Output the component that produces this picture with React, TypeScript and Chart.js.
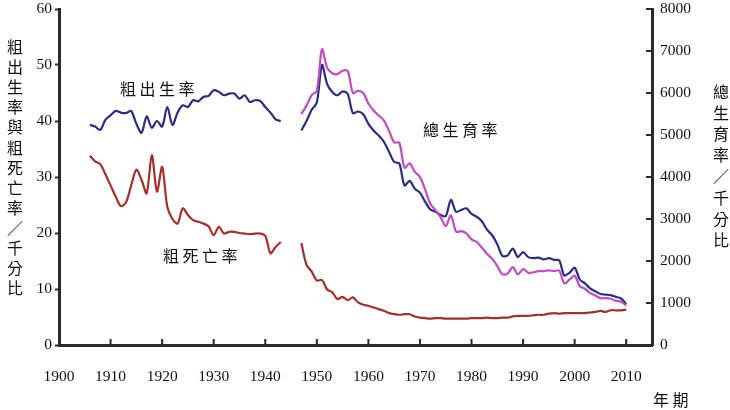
import React, { useEffect, useRef } from "react";
import { Chart, registerables } from "chart.js";

Chart.register(...registerables);

// Japanese-era series (1906-1943), per thousand
const yearsEarly = [
  1906, 1907, 1908, 1909, 1910, 1911, 1912, 1913, 1914, 1915, 1916, 1917, 1918,
  1919, 1920, 1921, 1922, 1923, 1924, 1925, 1926, 1927, 1928, 1929, 1930, 1931,
  1932, 1933, 1934, 1935, 1936, 1937, 1938, 1939, 1940, 1941, 1942, 1943,
];
const birthEarly = [
  39.3, 39.0, 38.4, 40.2, 41.0, 41.8, 41.5, 41.4, 41.8, 39.5, 37.9, 40.8, 38.8,
  40.0, 39.0, 42.5, 39.3, 41.5, 42.8, 42.5, 43.7, 43.5, 44.3, 44.5, 45.5, 45.2,
  44.6, 44.9, 44.9, 44.0, 44.6, 43.4, 43.7, 43.6, 42.5, 41.5, 40.3, 40.0,
];
const deathEarly = [
  33.8, 32.8, 32.3, 30.5, 28.5, 26.5, 24.8, 25.5, 28.5, 31.3, 29.5, 27.1, 33.9,
  27.4, 31.8, 24.7, 22.5, 21.7, 24.4, 23.2, 22.3, 22.0, 21.7, 21.2, 19.6, 21.1,
  19.9, 20.2, 20.2, 20.0, 19.9, 19.8, 19.9, 19.9, 19.5, 16.4, 17.5, 18.4,
];

// post-war series (1947-2010)
const yearsLate = [
  1947, 1948, 1949, 1950, 1951, 1952, 1953, 1954, 1955, 1956, 1957, 1958, 1959,
  1960, 1961, 1962, 1963, 1964, 1965, 1966, 1967, 1968, 1969, 1970, 1971, 1972,
  1973, 1974, 1975, 1976, 1977, 1978, 1979, 1980, 1981, 1982, 1983, 1984, 1985,
  1986, 1987, 1988, 1989, 1990, 1991, 1992, 1993, 1994, 1995, 1996, 1997, 1998,
  1999, 2000, 2001, 2002, 2003, 2004, 2005, 2006, 2007, 2008, 2009, 2010,
];
const birthLate = [
  38.3, 40.0, 42.0, 43.3, 50.0, 46.6, 45.2, 44.6, 45.3, 44.8, 41.4, 41.7, 41.2,
  39.5, 38.3, 37.4, 36.3, 34.5, 32.7, 32.4, 28.5, 29.3, 27.9, 27.2, 25.6, 24.2,
  23.8, 23.2, 23.0, 25.9, 23.8, 24.1, 24.4, 23.4, 22.9, 22.1, 20.6, 19.6, 18.0,
  15.9, 16.0, 17.2, 15.7, 16.6, 15.7, 15.5, 15.6, 15.3, 15.5, 15.2, 15.1, 12.4,
  12.9, 13.8, 11.7, 11.0, 10.1, 9.6, 9.1, 9.0, 8.9, 8.6, 8.3, 7.3,
];
const deathLate = [
  18.2, 14.3, 13.1, 11.5, 11.6, 9.9, 9.4, 8.2, 8.6, 8.0, 8.5, 7.6, 7.2, 7.0,
  6.7, 6.4, 6.1, 5.7, 5.5, 5.4, 5.5, 5.5, 5.1, 4.9, 4.8, 4.7, 4.8, 4.8, 4.7,
  4.7, 4.7, 4.7, 4.7, 4.8, 4.8, 4.8, 4.9, 4.8, 4.8, 4.9, 4.9, 5.1, 5.2, 5.2,
  5.2, 5.3, 5.4, 5.4, 5.6, 5.7, 5.6, 5.7, 5.7, 5.7, 5.7, 5.7, 5.8, 5.9, 6.1,
  5.9, 6.2, 6.2, 6.2, 6.3,
];
const tfrLate = [
  5500, 5700, 5950, 6050, 7040, 6600, 6470, 6450, 6530, 6520, 6000, 6050, 6000,
  5750, 5585, 5465, 5350, 5100, 4825, 4815, 4220, 4325, 4120, 4000, 3705, 3365,
  3210, 3045, 2830, 3085, 2700, 2710, 2660, 2515, 2455, 2320, 2170, 2055, 1880,
  1680, 1700, 1855, 1680, 1810, 1720, 1730, 1760, 1760, 1775, 1760, 1770, 1465,
  1555, 1650, 1400, 1340, 1235, 1180, 1115, 1115, 1100, 1050, 1030, 940,
];

const xTickYears = [1900, 1910, 1920, 1930, 1940, 1950, 1960, 1970, 1980, 1990, 2000, 2010];
const leftTicks = [0, 10, 20, 30, 40, 50, 60];
const rightTicks = [0, 1000, 2000, 3000, 4000, 5000, 6000, 7000, 8000];

const leftTitle = "粗出生率與粗死亡率／千分比";
const rightTitle = "總生育率／千分比";

const serif = "'Liberation Serif', 'Times New Roman', serif";
const cjk = "'Noto Sans CJK TC', 'Noto Sans CJK SC', sans-serif";
const axisColor = "#2a2a2a";

function joinSegments(xa: number[], ya: number[], xb: number[], yb: number[]) {
  const pts: { x: number; y: number | null }[] = [];
  xa.forEach((x, i) => pts.push({ x, y: ya[i] }));
  pts.push({ x: 1945, y: null });
  xb.forEach((x, i) => pts.push({ x, y: yb[i] }));
  return pts;
}

function drawSpaced(ctx: CanvasRenderingContext2D, text: string, x: number, y: number, step: number) {
  Array.from(text).forEach((ch, i) => ctx.fillText(ch, x + i * step, y));
}

function drawVertical(ctx: CanvasRenderingContext2D, text: string, x: number, y: number, step: number) {
  Array.from(text).forEach((ch, i) => ctx.fillText(ch, x, y + i * step));
}

const extras = {
  id: "extras",
  afterDraw(chart: Chart) {
    const { ctx, chartArea } = chart;
    const xs = chart.scales.x;
    const yr = chart.scales.y2;
    ctx.save();
    // inward tick marks on x axis and right axis
    ctx.strokeStyle = axisColor;
    ctx.lineWidth = 2;
    ctx.beginPath();
    xTickYears.slice(1).forEach((v) => {
      const px = xs.getPixelForValue(v);
      ctx.moveTo(px, chartArea.bottom);
      ctx.lineTo(px, chartArea.bottom - 6);
    });
    rightTicks.slice(1).forEach((v) => {
      const py = yr.getPixelForValue(v);
      ctx.moveTo(chartArea.right, py);
      ctx.lineTo(chartArea.right - 6, py);
    });
    ctx.stroke();

    ctx.fillStyle = "#111";
    ctx.font = `16px ${cjk}`;
    ctx.textAlign = "left";
    ctx.textBaseline = "middle";
    drawSpaced(ctx, "粗出生率", 120, 89, 19.5);
    drawSpaced(ctx, "粗死亡率", 163, 256, 19.5);
    drawSpaced(ctx, "總生育率", 423, 130, 19.5);
    drawSpaced(ctx, "年期", 653, 400, 19.5);

    ctx.textAlign = "center";
    drawVertical(ctx, leftTitle, 15, 47, 20.1);
    drawVertical(ctx, rightTitle, 721, 92, 21.1);
    ctx.restore();
  },
};

function App() {
  const canvasRef = useRef<HTMLCanvasElement>(null);

  useEffect(() => {
    document.body.style.margin = "0";
    const ctx = canvasRef.current?.getContext("2d");
    if (!ctx) return;

    const tickFont = { family: serif, size: 15.5 };

    const fitY = (width: number) => (s: any) => {
      s.width = width;
      s.paddingTop = 0;
      s.paddingBottom = 0;
    };

    const chart = new Chart(ctx, {
      type: "line",
      data: {
        datasets: [
          {
            label: "粗死亡率",
            data: joinSegments(yearsEarly, deathEarly, yearsLate, deathLate),
            borderColor: "#a3302f",
            yAxisID: "y",
          },
          {
            label: "總生育率",
            data: yearsLate.map((x, i) => ({ x, y: tfrLate[i] })),
            borderColor: "#c04cc4",
            yAxisID: "y2",
          },
          {
            label: "粗出生率",
            data: joinSegments(yearsEarly, birthEarly, yearsLate, birthLate),
            borderColor: "#2b2d82",
            yAxisID: "y",
          },
        ],
      },
      options: {
        responsive: false,
        animation: false,
        spanGaps: false,
        layout: { padding: { top: 9, left: 0, right: 0, bottom: 0 } },
        elements: {
          point: { radius: 0 },
          line: { borderWidth: 2.2, tension: 0.3 },
        },
        plugins: { legend: { display: false }, tooltip: { enabled: false } },
        scales: {
          x: {
            type: "linear",
            min: 1900,
            max: 2015,
            afterBuildTicks: (s: any) => {
              s.ticks = xTickYears.map((value) => ({ value }));
            },
            afterFit: (s: any) => {
              s.height = 65;
              s.paddingLeft = 0;
              s.paddingRight = 0;
            },
            grid: { drawOnChartArea: false, drawTicks: false },
            border: { color: axisColor, width: 3 },
            ticks: { padding: 23, color: "#111", font: tickFont, callback: (v: any) => String(v) },
          },
          y: {
            type: "linear",
            position: "left",
            min: 0,
            max: 60,
            afterBuildTicks: (s: any) => {
              s.ticks = leftTicks.map((value) => ({ value }));
            },
            afterFit: fitY(59),
            grid: { drawOnChartArea: false, tickLength: 4, tickWidth: 2, tickColor: axisColor },
            border: { color: axisColor, width: 3 },
            ticks: { padding: 3, color: "#111", font: tickFont, callback: (v: any) => String(v) },
          },
          y2: {
            type: "linear",
            position: "right",
            min: 0,
            max: 8000,
            afterBuildTicks: (s: any) => {
              s.ticks = rightTicks.map((value) => ({ value }));
            },
            afterFit: fitY(78),
            grid: { drawOnChartArea: false, drawTicks: false },
            border: { color: axisColor, width: 3 },
            ticks: { padding: 8, color: "#111", font: tickFont, callback: (v: any) => String(v) },
          },
        },
      },
      plugins: [extras],
    });

    return () => {
      chart.destroy();
    };
  }, []);

  return (
    <canvas ref={canvasRef} width={730} height={410} style={{ display: "block" }} />
  );
}

export default App;
